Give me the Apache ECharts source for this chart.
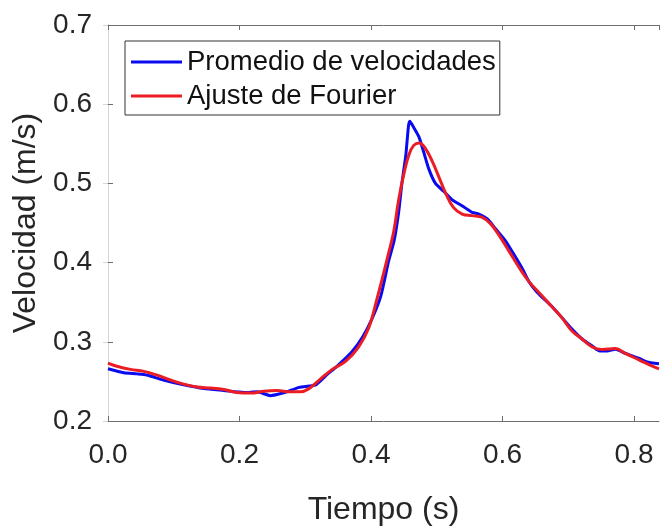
<!DOCTYPE html>
<html lang="es">
<head>
	<meta charset="utf-8" />
	<title>Velocidad</title>
	<script src="https://cdn.jsdelivr.net/npm/echarts@6/dist/echarts.min.js"></script>
	<style>
		html, body { margin: 0; padding: 0; background: #fff; }
	</style>
</head>
<body>
	<div id="chart" style="width:660px;height:531px;"></div>
	<script>
		// datos
		var tPromedio = [0, 0.024, 0.044, 0.059, 0.084, 0.115, 0.146, 0.176, 0.207, 0.227, 0.247, 0.267,
			0.291, 0.316, 0.331, 0.351, 0.371, 0.387, 0.402, 0.415, 0.427, 0.435, 0.442, 0.447, 0.453,
			0.457, 0.459, 0.465, 0.473, 0.480, 0.488, 0.498, 0.511, 0.523, 0.539, 0.554, 0.564, 0.577,
			0.589, 0.605, 0.617, 0.630, 0.640, 0.652, 0.660, 0.676, 0.691, 0.706, 0.721, 0.737, 0.748,
			0.759, 0.772, 0.787, 0.807, 0.820, 0.828, 0.838];
		var vPromedio = [0.266, 0.261, 0.2595, 0.258, 0.2518, 0.2458, 0.241, 0.2385, 0.236, 0.2368, 0.232, 0.2356,
			0.2425, 0.2457, 0.257, 0.2712, 0.2874, 0.3056, 0.33, 0.358, 0.4027, 0.427, 0.4633, 0.50, 0.536,
			0.5726, 0.5786, 0.5705, 0.5584, 0.540, 0.518, 0.500, 0.4897, 0.4795, 0.4715, 0.4633, 0.4613, 0.4552,
			0.4431, 0.4269, 0.4108, 0.3926, 0.3763, 0.363, 0.3565, 0.344, 0.3299, 0.3157, 0.3035, 0.2943, 0.2885,
			0.2885, 0.2905, 0.2853, 0.2793, 0.2745, 0.2732, 0.2724];

		var tFourier = [0, 0.0135, 0.034, 0.0546, 0.0746, 0.0947, 0.115, 0.1357, 0.1558, 0.176, 0.1964, 0.217, 0.237,
			0.257, 0.2775, 0.2929, 0.3055, 0.3204, 0.341, 0.3612, 0.381, 0.3966, 0.409, 0.4202, 0.4277, 0.4347, 0.4422,
			0.450, 0.4575, 0.465, 0.4734, 0.4827, 0.493, 0.5033, 0.5135, 0.5256, 0.5387, 0.5536, 0.5685, 0.5816, 0.5943,
			0.6096, 0.6248, 0.640, 0.660, 0.6755, 0.6908, 0.7057, 0.7211, 0.7365, 0.7514, 0.7719, 0.7868, 0.8074, 0.8279, 0.838];
		var vFourier = [0.2732, 0.2692, 0.2652, 0.2627, 0.2579, 0.2518, 0.2465, 0.2428, 0.2416, 0.2397, 0.236, 0.2352, 0.2376,
			0.2385, 0.2368, 0.2368, 0.2409, 0.251, 0.2652, 0.2752, 0.2934, 0.3177, 0.354, 0.39, 0.415, 0.44, 0.48,
			0.512, 0.536, 0.548, 0.551, 0.5443, 0.528, 0.508, 0.4876, 0.4694, 0.4613, 0.4593, 0.4573, 0.4492, 0.435,
			0.4148, 0.3945, 0.3763, 0.3581, 0.344, 0.3299, 0.3137, 0.3035, 0.2934, 0.2902, 0.2914, 0.2853, 0.2773, 0.2692, 0.2659];

		var nombres = ['Promedio de velocidades', 'Ajuste de Fourier'];
		var xTicks = { min: 0, max: 0.838, step: 0.2 };
		var yTicks = { min: 0.2, max: 0.7, step: 0.1 };

		function pares(t, v) {
			var out = [];
			for (var i = 0; i < t.length; i++) out.push([t[i], v[i]]);
			return out;
		}

		var fuente = 'Liberation Sans';
		var ejeColor = '#6e6e6e';
		var textoColor = '#262626';

		var chart = echarts.init(document.getElementById('chart'));
		var option = {
			animation: false,
			backgroundColor: '#fff',
			grid: { left: 108, right: 1, top: 25, bottom: 94 },
			legend: {
				data: nombres,
				orient: 'vertical',
				left: 125,
				top: 41,
				padding: [4, 4, 2, 6],
				itemGap: 0,
				itemWidth: 51,
				itemHeight: 3,
				icon: 'rect',
				backgroundColor: '#fff',
				borderColor: '#333',
				borderWidth: 1,
				textStyle: { fontFamily: fuente, fontSize: 27.5, color: '#111', lineHeight: 34 }
			},
			xAxis: [{
				type: 'value',
				min: xTicks.min, max: xTicks.max, interval: xTicks.step,
				name: 'Tiempo (s)',
				nameLocation: 'middle',
				nameGap: 73,
				nameTextStyle: { fontFamily: fuente, fontSize: 32, color: textoColor },
				axisLine: { lineStyle: { color: ejeColor, width: 1 } },
				axisTick: { inside: true, length: 5, lineStyle: { color: ejeColor } },
				axisLabel: {
					showMaxLabel: false, margin: 20,
					fontFamily: fuente, fontSize: 28, color: textoColor,
					formatter: function (v) { return v.toFixed(1); }
				},
				splitLine: { show: false }
			}, {
				type: 'value', position: 'top',
				min: xTicks.min, max: xTicks.max, interval: xTicks.step,
				axisLine: { lineStyle: { color: ejeColor, width: 1 } },
				axisTick: { inside: true, length: 5, lineStyle: { color: ejeColor } },
				axisLabel: { show: false },
				splitLine: { show: false }
			}],
			yAxis: [{
				type: 'value',
				min: yTicks.min, max: yTicks.max, interval: yTicks.step,
				name: 'Velocidad (m/s)',
				nameLocation: 'middle',
				nameGap: 62,
				nameTextStyle: { fontFamily: fuente, fontSize: 32, color: textoColor },
				axisLine: { show: true, lineStyle: { color: ejeColor, width: 1 } },
				axisTick: { show: true, inside: true, length: 5, lineStyle: { color: ejeColor } },
				axisLabel: {
					margin: 16, fontFamily: fuente, fontSize: 28, color: textoColor,
					formatter: function (v) { return v.toFixed(1); }
				},
				splitLine: { show: false }
			}, {
				type: 'value', position: 'right',
				min: yTicks.min, max: yTicks.max, interval: yTicks.step,
				axisLine: { show: true, lineStyle: { color: '#d6d6d6', width: 1 } },
				axisTick: { show: true, inside: true, length: 5, lineStyle: { color: '#d6d6d6' } },
				axisLabel: { show: false },
				splitLine: { show: false }
			}],
			series: [{
				name: nombres[0],
				type: 'line',
				data: pares(tPromedio, vPromedio),
				showSymbol: false,
				smooth: 0.2,
				color: '#0a0af0',
				lineStyle: { width: 3, color: '#0a0af0' },
				z: 2
			}, {
				name: nombres[1],
				type: 'line',
				data: pares(tFourier, vFourier),
				showSymbol: false,
				smooth: 0.4,
				color: '#ec1c24',
				lineStyle: { width: 3, color: '#ec1c24' },
				z: 3
			}]
		};
		chart.setOption(option);
	</script>
</body>
</html>
